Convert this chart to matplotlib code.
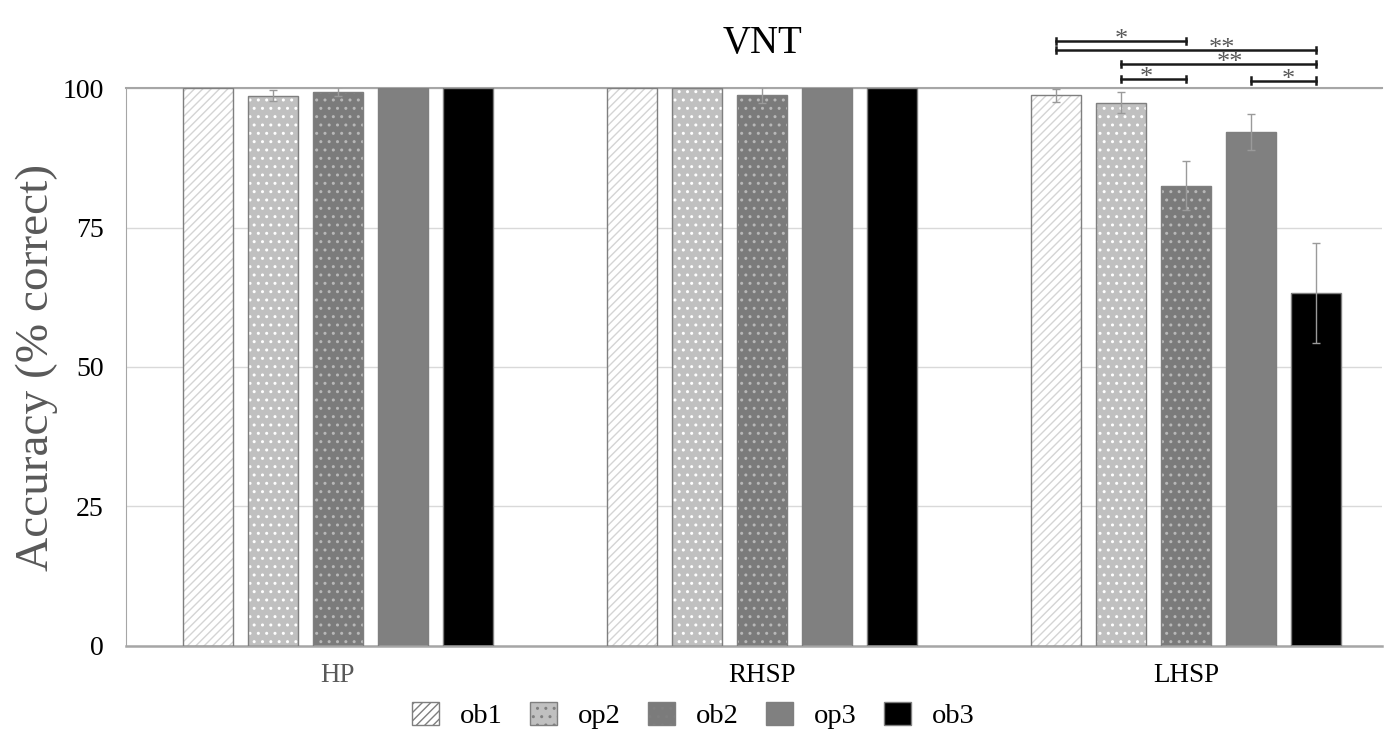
import numpy as np
import matplotlib.pyplot as plt
from matplotlib.patches import Patch

plt.rcParams['font.family'] = ['Liberation Serif', 'DejaVu Serif']
plt.rcParams['hatch.linewidth'] = 1.0

# Daten
groups = ['HP', 'RHSP', 'LHSP']
series = ['ob1', 'op2', 'ob2', 'op3', 'ob3']
values = {
    'ob1': [100.0, 100.0, 98.7],
    'op2': [98.6, 100.0, 97.4],
    'ob2': [99.3, 98.8, 82.5],
    'op3': [100.0, 100.0, 92.1],
    'ob3': [100.0, 100.0, 63.3],
}
errors = {
    'ob1': [0.0, 0.0, 1.2],
    'op2': [1.0, 0.0, 1.8],
    'ob2': [0.8, 1.4, 4.4],
    'op3': [0.0, 0.0, 3.2],
    'ob3': [0.0, 0.0, 9.0],
}
# Signifikanz in LHSP: (Serie a, Serie b, Höhe, Label, Position des Sterns)
sig_pairs = [
    ('ob1', 'ob2', 108.4, '*', 0.50),
    ('ob1', 'ob3', 106.8, '**', 0.64),
    ('op2', 'ob3', 104.3, '**', 0.56),
    ('op2', 'ob2', 101.6, '*', 0.38),
    ('op3', 'ob3', 101.3, '*', 0.57),
]

# Stil
faces = {'ob1': 'white', 'op2': '#c0c0c0', 'ob2': '#7b7b7b', 'op3': '#808080', 'ob3': 'black'}
hatches = {'ob1': '////', 'op2': '..', 'ob2': '..', 'op3': None, 'ob3': None}
hatch_cols = {'ob1': '#d4d4d4', 'op2': 'white', 'ob2': '#b8b8b8', 'op3': '#808080', 'ob3': 'black'}
edge = '#7f7f7f'

step = 0.153
width = 0.118
x = np.arange(len(groups))

fig = plt.figure(figsize=(13.86, 7.31), dpi=100)
ax = fig.add_axes([0.0909, 0.1163, 0.9062, 0.7633])

for k, s in enumerate(series):
    pos = x + (k - 2) * step
    ax.bar(pos, values[s], width, color=faces[s], hatch=hatches[s],
           edgecolor=hatch_cols[s], linewidth=0, zorder=2)
    ax.bar(pos, values[s], width, fill=False, edgecolor=edge, linewidth=1.0, zorder=3)
    err = np.array(errors[s])
    m = err > 0
    ax.errorbar(pos[m], np.array(values[s])[m], yerr=err[m], fmt='none',
                ecolor='#9a9a9a', elinewidth=1.0, capsize=3, capthick=1.0, zorder=4)

# Signifikanzklammern
g = 2
for a, b, h, lab, fr in sig_pairs:
    xa = g + (series.index(a) - 2) * step
    xb = g + (series.index(b) - 2) * step
    ax.plot([xa, xb], [h, h], color='#1a1a1a', lw=1.8, clip_on=False, zorder=5)
    for xx in (xa, xb):
        ax.plot([xx, xx], [h - 0.6, h + 0.6], color='#1a1a1a', lw=1.8, clip_on=False, zorder=5)
    ax.text(xa + fr * (xb - xa), h - 0.9, lab, ha='center', va='baseline',
            fontsize=19, color='#595959', clip_on=False)

ax.set_xlim(-0.5, 2.462)
ax.set_ylim(0, 100)
ax.set_yticks([0, 25, 50, 75, 100])
ax.set_xticks(x)
ax.set_xticklabels(groups, fontsize=19.5)
ax.get_xticklabels()[0].set_color('#595959')
ax.tick_params(axis='y', labelsize=20, length=0, pad=16)
ax.tick_params(axis='x', length=0, pad=12)
ax.grid(axis='y', color='#d9d9d9', lw=1.0, zorder=0)
ax.set_axisbelow(True)
ax.axhline(100, color='#a6a6a6', lw=1.5, zorder=1, clip_on=False)

for sp in ['top', 'right']:
    ax.spines[sp].set_visible(False)
ax.spines['left'].set_color('#a6a6a6')
ax.spines['bottom'].set_color('#a6a6a6')
ax.spines['bottom'].set_linewidth(1.8)

ax.set_ylabel('Accuracy (% correct)', fontsize=34, color='#595959')
ax.yaxis.set_label_coords(-0.0545, 0.5)

ax.text(1, 1.062, 'VNT', transform=ax.get_xaxis_transform(), ha='center',
        va='baseline', fontsize=28)

handles = [Patch(facecolor=faces[s], hatch=hatches[s], edgecolor=edge, label=s)
           for s in series]
fig.legend(handles=handles, loc='center', bbox_to_anchor=(0.5, 0.021), ncol=5,
           frameon=False, fontsize=20.5, handlelength=0.95, handleheight=0.88,
           handletextpad=0.74, columnspacing=0.95, borderpad=0.0)

fig.savefig('out.png', dpi=100)
